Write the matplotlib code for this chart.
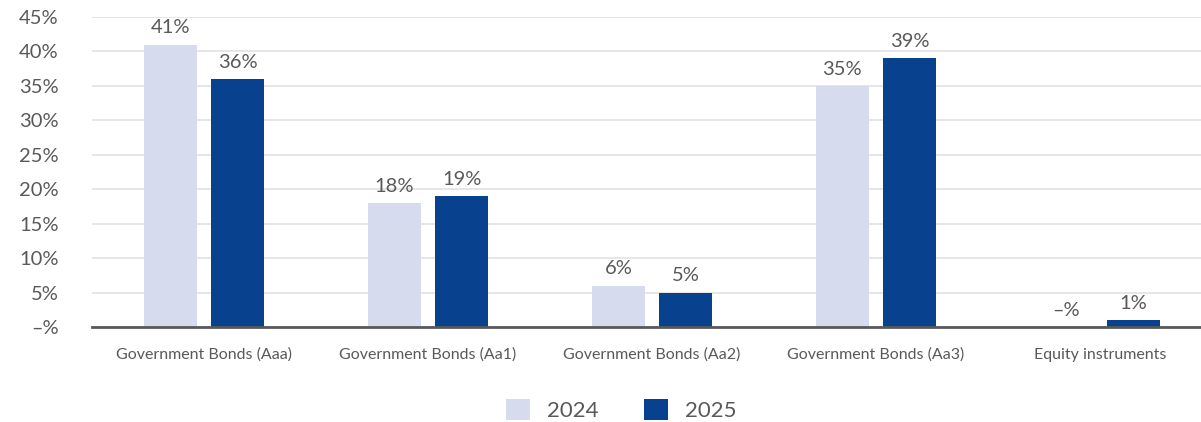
import matplotlib.pyplot as plt
import numpy as np
from matplotlib.ticker import FuncFormatter

plt.rcParams['font.family'] = ['Lato', 'DejaVu Sans']

# data
categories = ["Government Bonds (Aaa)", "Government Bonds (Aa1)", "Government Bonds (Aa2)",
              "Government Bonds (Aa3)", "Equity instruments"]
share_2024 = [41, 18, 6, 35, 0]
share_2025 = [36, 19, 5, 39, 1]
years = ["2024", "2025"]

c_light = "#D7DBEE"
c_dark = "#08428F"
c_text = "#595959"


def pct(v, pos=None):
    return "\u2013%" if v == 0 else f"{v:.0f}%"


fig = plt.figure(figsize=(12.01, 4.22), dpi=100)
ax = fig.add_axes([92 / 1201, 1 - 327 / 422, 1120 / 1201, 310 / 422])

x = np.arange(len(categories))
w = 0.24
b1 = ax.bar(x - 0.15, share_2024, w, color=c_light, label=years[0], zorder=3)
b2 = ax.bar(x + 0.15, share_2025, w, color=c_dark, label=years[1], zorder=3)

for bars, vals in ((b1, share_2024), (b2, share_2025)):
    ax.bar_label(bars, labels=[pct(v) for v in vals], padding=6,
                 fontsize=14.5, color=c_text)

ax.set_xlim(-0.5, len(categories) - 0.5)
ax.set_ylim(0, 45)
ax.set_yticks(np.arange(0, 46, 5))
ax.yaxis.set_major_formatter(FuncFormatter(pct))
ax.set_xticks(x)
ax.set_xticklabels(categories, fontsize=11.5, color=c_text)
ax.tick_params(axis='y', length=0, pad=24, labelsize=14.5, labelcolor=c_text)
ax.tick_params(axis='x', length=0, pad=15)

ax.grid(axis='y', color="#E4E4E4", linewidth=1.3, zorder=0)
for s in ("top", "right", "left"):
    ax.spines[s].set_visible(False)
ax.spines["bottom"].set_color(c_text)
ax.spines["bottom"].set_linewidth(2)
ax.spines["bottom"].set_zorder(4)

fig.legend(loc="center", bbox_to_anchor=(0.517, 1 - 410 / 422), ncol=2,
           frameon=False, fontsize=16, handlelength=1.1, handleheight=1.1,
           handletextpad=0.75, columnspacing=2.05, labelcolor=c_text)

fig.savefig("out.png", dpi=100)
